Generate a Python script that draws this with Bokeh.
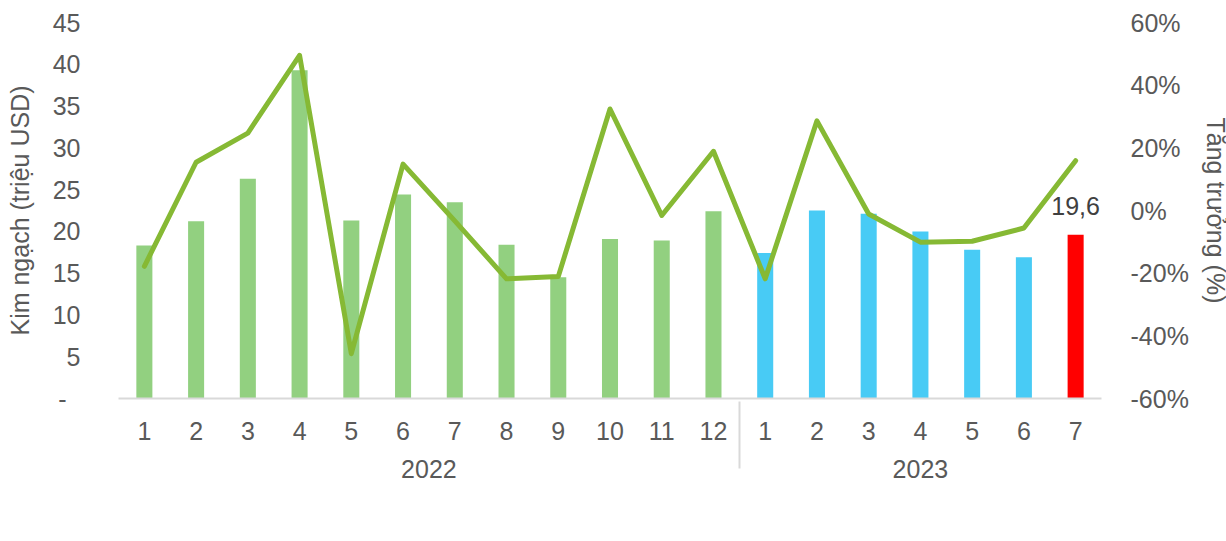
from bokeh.plotting import figure
from bokeh.models import (FactorRange, Range1d, LinearAxis, CategoricalAxis, FixedTicker,
                          PrintfTickFormatter, ColumnDataSource, Legend, LegendItem)
from bokeh.core.properties import value
from bokeh.embed import file_html
from bokeh.resources import INLINE

# ---------------- data ----------------
years = ["2022"] * 12 + ["2023"] * 7
months = ["1", "2", "3", "4", "5", "6", "7", "8", "9", "10", "11", "12",
          "1", "2", "3", "4", "5", "6", "7"]
kim_ngach = [18.3, 21.2, 26.3, 39.3, 21.3, 24.4, 23.5, 18.4, 14.5, 19.1, 18.9, 22.4,
             17.4, 22.5, 22.1, 20.0, 17.8, 16.9, 19.6]          # triệu USD
tang_truong = [-17.8, 15.4, 24.7, 49.5, -45.7, 14.8, -3.3, -21.8, -21.1, 32.4, -1.6, 18.9,
               -21.8, 28.6, -1.1, -10.1, -9.8, -5.6, 15.9]     # %
left_ticks = [0, 5, 10, 15, 20, 25, 30, 35, 40, 45]
right_ticks = [-60, -40, -20, 0, 20, 40, 60]

# ---------------- styles ----------------
FONT = "Liberation Sans"
TXT = "#595959"
GREEN_BAR = "#92D080"
BLUE_BAR = "#48CBF5"
RED_BAR = "#FF0000"
LINE_GREEN = "#86B934"
GRID = "#D9D9D9"
FS = "25px"

factors = list(zip(years, months))
colors = [GREEN_BAR if y == years[0] else BLUE_BAR for y in years]
colors[-1] = RED_BAR

src = ColumnDataSource(dict(x=factors, kim=kim_ngach, growth=tang_truong, color=colors))

p = figure(frame_width=983, frame_height=376,
           x_range=FactorRange(factors=factors, group_padding=0, factor_padding=0, range_padding=0),
           y_range=Range1d(0, 45),
           output_backend="svg", toolbar_location=None,
           x_axis_location=None, y_axis_location=None,
           min_border_left=118, min_border_right=124, min_border_top=22, min_border_bottom=140)
p.outline_line_color = None
p.xgrid.visible = False
p.ygrid.visible = False
p.extra_y_ranges = {"growth": Range1d(-60, 60)}

# left axis
yl = LinearAxis(ticker=FixedTicker(ticks=left_ticks),
                major_label_overrides={0: "-\u00a0\u00a0"},
                axis_label="Kim ngạch (triệu USD)")
# right axis
yr = LinearAxis(y_range_name="growth", ticker=FixedTicker(ticks=right_ticks),
                formatter=PrintfTickFormatter(format="%d%%"),
                axis_label="Tăng trưởng (%)")
for ax in (yl, yr):
    ax.axis_line_color = None
    ax.major_tick_line_color = None
    ax.minor_tick_line_color = None
    ax.major_label_text_font = FONT
    ax.major_label_text_font_size = FS
    ax.major_label_text_color = TXT
    ax.axis_label_text_font = FONT
    ax.axis_label_text_font_size = FS
    ax.axis_label_text_font_style = "normal"
    ax.axis_label_text_color = TXT
yl.major_label_standoff = 32
yr.major_label_standoff = 23
yl.axis_label_standoff = 16
yr.axis_label_standoff = 10
p.add_layout(yl, "left")
p.add_layout(yr, "right")

# two-level categorical x axis with a year separator
xa = CategoricalAxis()
xa.axis_line_color = GRID
xa.axis_line_width = 2
xa.major_tick_line_color = None
xa.minor_tick_line_color = None
xa.major_label_text_font = FONT
xa.major_label_text_font_size = FS
xa.major_label_text_color = TXT
xa.major_label_standoff = 17
xa.group_text_font = FONT
xa.group_text_font_size = FS
xa.group_text_font_style = "normal"
xa.group_text_color = TXT
try:
    xa.separator_line_color = GRID
    xa.separator_line_width = 2
except Exception:
    pass
p.add_layout(xa, "below")

# bars and growth line
bars = p.vbar(x="x", top="kim", bottom=0, width=0.31, fill_color="color",
              line_color=None, source=src)
line = p.line(x="x", y="growth", y_range_name="growth", line_color=LINE_GREEN,
              line_width=5, line_join="round", line_cap="round", source=src)

legend = Legend(items=[LegendItem(label="Kim ngạch", renderers=[bars]),
                       LegendItem(label="Tăng trưởng", renderers=[line])],
                orientation="horizontal", location="center",
                label_text_font=FONT, label_text_font_size=FS, label_text_color=TXT,
                glyph_width=52, glyph_height=16, label_standoff=4, spacing=32,
                padding=0, margin=0, border_line_color=None, background_fill_alpha=0)
p.add_layout(legend, "below")

# data label for latest month
lab_src = ColumnDataSource(dict(x=[factors[-1]], y=[kim_ngach[-1]],
                                t=[str(kim_ngach[-1]).replace(".", ",")]))
p.text(x="x", y="y", text="t", source=lab_src, text_align="center",
       text_baseline="alphabetic", y_offset=-29, text_font=value(FONT),
       text_font_size=value(FS), text_color="#404040")

open("out.html", "w").write(file_html(p, INLINE))
